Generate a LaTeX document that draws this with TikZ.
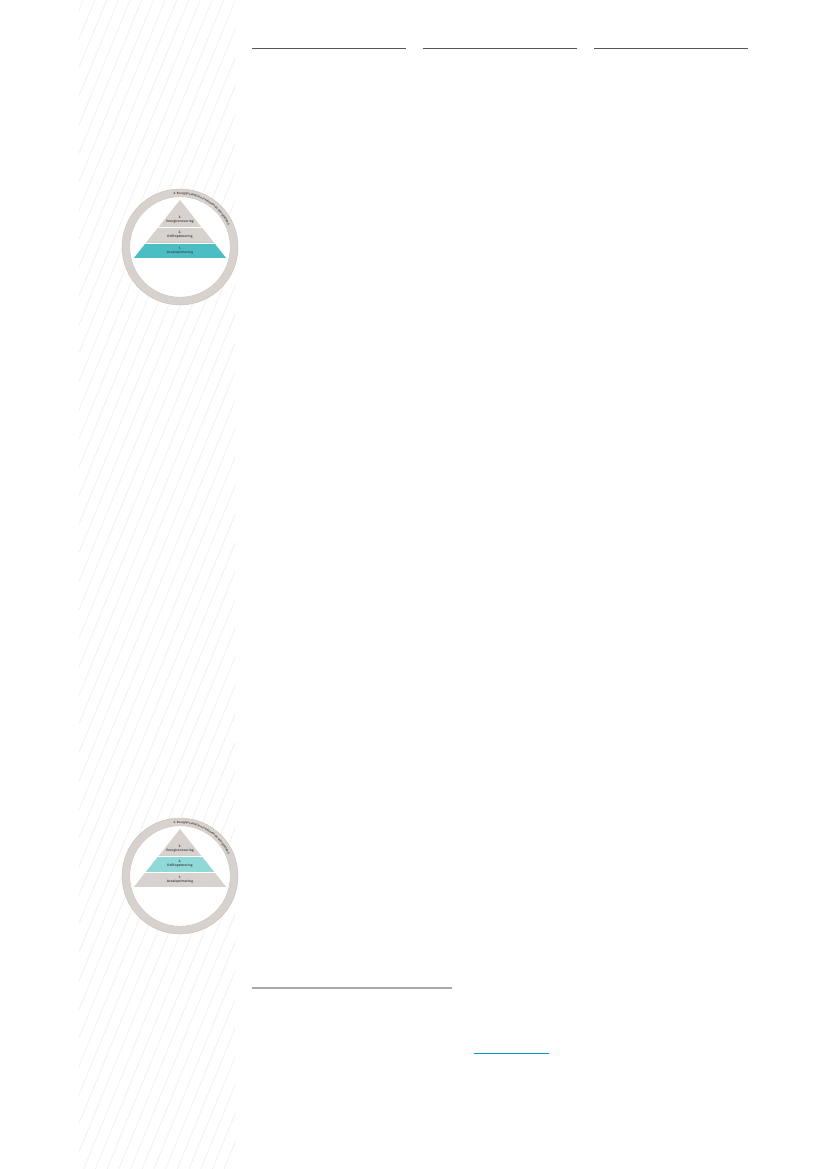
\documentclass[tikz,border=0pt]{standalone}
\usepackage{fontspec}
\setmainfont{Open Sans}
\usetikzlibrary{decorations.text}
\definecolor{ringgray}{RGB}{216,210,206}
\definecolor{ringedge}{RGB}{198,192,188}
\definecolor{tealdark}{RGB}{74,190,196}
\definecolor{teallight}{RGB}{143,217,217}
\definecolor{hatch}{RGB}{236,236,236}
\definecolor{txt}{RGB}{70,70,70}
\definecolor{rulegray}{RGB}{85,85,85}
\definecolor{rulelight}{RGB}{168,168,168}
\definecolor{linkblue}{RGB}{0,153,204}
\tikzset{
  hatchline/.style={draw=hatch,line width=0.5pt},
  toprule/.style={draw=rulegray,line width=1pt},
  lbl/.style={text=txt,font=\fontsize{3.2}{3.6}\selectfont\bfseries,inner sep=0pt},
  numlbl/.style={text=txt,font=\fontsize{3.2}{3.6}\selectfont\bfseries,inner sep=0pt},
}
\newcommand{\energypyr}[3]{%
  % #1 = center y, #2 = middle colour, #3 = bottom colour
  \begin{scope}[shift={(180,#1)}]
    \fill[ringgray,even odd rule] (0,0) circle (58) (0,0) circle (50);
    \draw[ringedge,line width=0.4pt] (0,0) circle (58) (0,0) circle (50);
    \fill[white] (0,0) circle (49.8);
    \fill[ringgray] (0,47) -- (-46,-11) -- (46,-11) -- cycle;
    \fill[#2] (-21.4,20) -- (21.4,20) -- (34.1,4) -- (-34.1,4) -- cycle;
    \fill[#3] (-34.1,4) -- (34.1,4) -- (46,-11) -- (-46,-11) -- cycle;
    \draw[white,line width=0.8pt] (-22,20) -- (22,20) (-35,4) -- (35,4);
    \node[numlbl] (n3#1) at (0,29.3) {3.};
    \node[lbl] (l3#1) at (0,25) {Energirenovering};
    \node[numlbl] (n2#1) at (0,14.8) {2.};
    \node[lbl] (l2#1) at (0,10.5) {Driftoptimering};
    \node[numlbl] (n1#1) at (0,-1.2) {1.};
    \node[lbl] (l1#1) at (0,-5.5) {Arealoptimering};
    \path[decorate,decoration={text along path,
      text={|\fontsize{2.9}{3}\selectfont\bfseries\color{txt}|4. Energiproduktion (vedvarende energikilder)},
      text align=left}]
      (97:52.6) arc[start angle=97,end angle=22,radius=52.6];
  \end{scope}}
\begin{document}
\begin{tikzpicture}[x=1pt,y=1pt]
\useasboundingbox (0,0) rectangle (827,1169);
\fill[white] (0,0) rectangle (827,1169);
% hatched margin
\begin{scope}
  \clip (79,0) rectangle (235,1169);
  \foreach \k in {-1,...,56}{
    \draw[hatchline] ({95+11.7*\k},1169) -- ({95+11.7*\k-0.41*1169},0);
  }
\end{scope}
% top rules
\draw[toprule] (252,1120) -- (406,1120);
\draw[toprule] (423,1120) -- (577,1120);
\draw[toprule] (594,1120) -- (748,1120);
% pyramids
\energypyr{922}{ringgray}{tealdark}
\energypyr{293}{teallight}{ringgray}
% footnote rule and link underline
\draw[rulelight,line width=1.3pt] (252,181) -- (452,181);
\draw[linkblue,line width=1pt] (474,115) -- (549,115);
\end{tikzpicture}
\end{document}
